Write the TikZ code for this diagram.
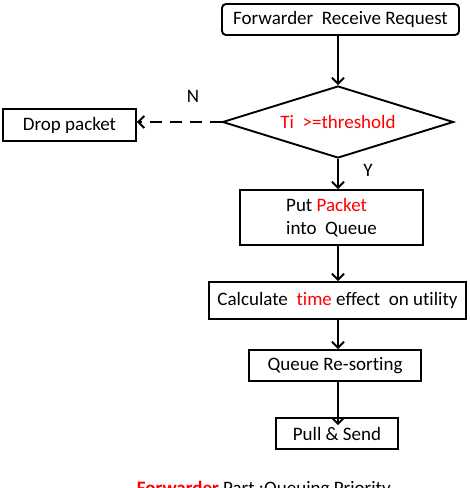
\documentclass[tikz,border=0pt]{standalone}
\usepackage{fontspec}
\setmainfont[Ligatures=NoCommon]{Carlito}
\usetikzlibrary{shapes.geometric,arrows.meta}

\begin{document}
\begin{tikzpicture}[x=1pt,y=-1pt, font=\fontsize{19}{23}\selectfont, line width=1.9pt,
    stepbox/.style={draw, rectangle, inner sep=0pt},
    arr/.style={-{Straight Barb[length=6pt,width=12pt]}}]
\useasboundingbox (0,0) rectangle (470,488);
\node[stepbox, rounded corners=4pt, minimum width=237, minimum height=31] (recv) at (340.5,19.5) {Forwarder\ \ Receive Request};
\node[draw, diamond, aspect=3.2, inner sep=0pt, minimum width=231, minimum height=72] (check) at (338,122) {\color{red}Ti\ \ >=threshold};
\node[stepbox, minimum width=133, minimum height=32] (drop) at (69.5,125) {\hspace*{6pt}Drop packet\hspace*{6pt}};
\node[stepbox, minimum width=183, minimum height=55, align=left] (put) at (331.5,217.5) {Put {\color{red}Packet}\\into\ \ Queue};
\node[stepbox, minimum width=257, minimum height=37] (calc) at (337.5,300.5) {Calculate\ \ {\color{red}time} effect\ \ on utility};
\node[stepbox, minimum width=172, minimum height=31] (sort) at (335,365.5) {Queue Re-sorting};
\node[stepbox, minimum width=122, minimum height=31] (send) at (337,433.5) {Pull \& Send};
\node at (193,96) {N};
\node at (368,170) {Y};
\node[anchor=north west, inner sep=0pt] (title) at (136,480) {{\bfseries\color{red}Forwarder} Part :Queuing Priority};

\draw[arr] (check.north |- recv.south) -- (check.north);
\draw[arr, dashed, dash pattern=on 12pt off 8pt] (check.west) -- (drop.east |- check.west);
\draw[arr] (check.south) -- (check.south |- put.north);
\draw[arr] (check.south |- put.south) -- (check.south |- calc.north);
\draw[arr] (check.south |- calc.south) -- (check.south |- sort.north);
\draw[arr] (check.south |- sort.south) -- ([yshift=-8pt]check.south |- send.north);
\end{tikzpicture}
\end{document}
